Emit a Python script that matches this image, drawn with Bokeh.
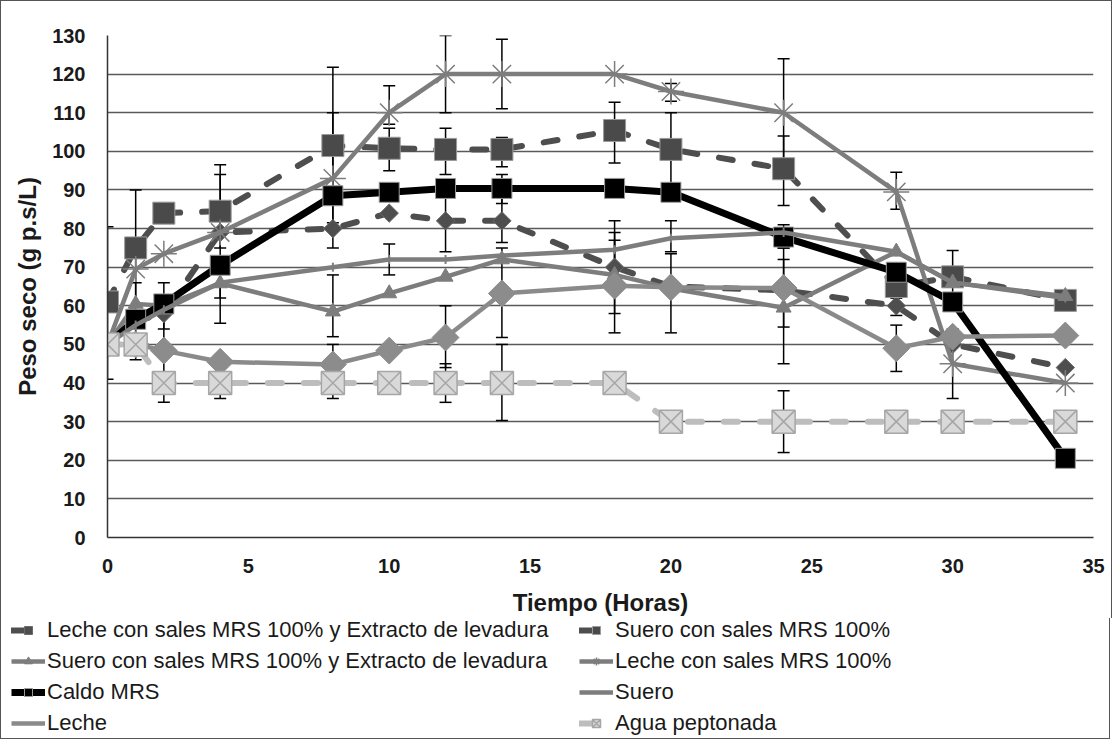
from bokeh.plotting import figure
from bokeh.models import Range1d, FixedTicker, Legend, LegendItem
from bokeh.embed import file_html
from bokeh.resources import INLINE
import math

hours = [0, 1, 2, 4, 8, 10, 12, 14, 18, 20, 24, 28, 30, 34]
leche_mrs_ext = [50, 56, 58, 79, 80, 84, 82, 82, 70, 65, 64, 60, 50, 44]
suero_mrs = [61, 75, 84, 84.5, 101.5, 100.8, 100.5, 100.5, 105.4, 100.5, 95.5, 65, 67.5, 61.4]
suero_mrs_ext = [50, 60.5, 60, 65.8, 58.5, 63.2, 67.5, 72, 68, 64.5, 59.5, 74, 66, 62.5]
leche_mrs = [50, 69.5, 73.5, 79, 93, 110, 120, 120, 120, 115.5, 110, 89.5, 45, 40]
caldo_mrs = [50, 56.5, 60.5, 70.5, 88.5, 89.4, 90.4, 90.4, 90.4, 89.4, 77.8, 68.7, 61, 20.5]
suero = [50, 55, 59, 66, 70, 72, 72, 73, 74.5, 77.5, 79, 74, 66, 62]
leche = [50, 50, 48.4, 45.5, 44.8, 48.4, 51.8, 63.2, 65.2, 64.8, 64.6, 49, 52, 52.3]
agua = [50, 50, 40, 40, 40, 40, 40, 40, 40, 30, 30, 30, 30, 30]

# error bars (hour, low, high)
err_x = [0, 1, 1, 2, 2, 4, 4, 4, 4, 8, 8, 8, 8, 10, 10, 10, 12, 12, 12, 12, 12,
         14, 14, 14, 14, 14, 14, 18, 18, 18, 18, 20, 20, 20, 20,
         24, 24, 24, 24, 24, 24, 28, 28, 28, 30, 30]
err_lo = [41, 60, 46, 35, 54, 75, 62, 55.5, 36, 81.5, 75, 52, 36, 68, 95, 107, 110, 94, 74, 44, 35,
          111, 96, 86.5, 76.4, 51.8, 30.3, 97, 68, 58, 53, 113, 91, 74, 53,
          96, 86, 75, 54.5, 45, 22, 85, 43, 57.5, 60, 36]
err_hi = [80.5, 90, 66, 61, 66, 96.5, 94, 72, 44, 121.8, 110, 68, 50, 76, 106, 117, 130, 106, 89, 60, 45,
          129, 103.6, 94, 88, 75, 50, 112.7, 82, 79, 77, 117.6, 110, 82, 73.5,
          124, 104, 81, 75, 72, 38, 94.6, 55, 62, 74.3, 54]

x_ticks = [0, 5, 10, 15, 20, 25, 30, 35]
y_ticks = [0, 10, 20, 30, 40, 50, 60, 70, 80, 90, 100, 110, 120, 130]

labels = [
    "Leche con sales MRS 100% y Extracto de levadura",
    "Suero con sales MRS 100%",
    "Suero con sales MRS 100% y Extracto de levadura",
    "Leche con sales MRS 100%",
    "Caldo MRS",
    "Suero",
    "Leche",
    "Agua peptonada",
]
series = [leche_mrs_ext, suero_mrs, suero_mrs_ext, leche_mrs, caldo_mrs, suero, leche, agua]

FONT = "Liberation Sans"
DARK = "#4e4e4e"
MID = "#7d7d7d"
LIGHT = "#bdbdbd"
EDGE = "1.5px solid #555555"

line_styles = [
    dict(line_color=DARK, line_width=6, line_dash="14 22", line_cap="round"),
    dict(line_color=DARK, line_width=6, line_dash="14 22", line_cap="round"),
    dict(line_color=MID, line_width=4.5),
    dict(line_color=MID, line_width=4.5),
    dict(line_color="black", line_width=7),
    dict(line_color=MID, line_width=4.5),
    dict(line_color="#8a8a8a", line_width=4.5),
    dict(line_color=LIGHT, line_width=6, line_dash="14 22", line_cap="round"),
]
marker_styles = [
    dict(marker="square", angle=math.pi / 4, size=13, fill_color=DARK, line_color="#6a6a6a", line_width=1),
    dict(marker="square", size=22, fill_color="#4a4a4a", line_color="#9a9a9a", line_width=1),
    dict(marker="triangle", size=15, fill_color=MID, line_color=MID),
    dict(marker="asterisk", size=26, line_color=MID, line_width=1.5),
    dict(marker="square", size=20, fill_color="black", line_color="#9a9a9a", line_width=1),
    dict(marker="dash", angle=math.pi / 2, size=9, line_color=MID, line_width=2),
    dict(marker="square", angle=math.pi / 4, size=19, fill_color="#8c8c8c", line_color="#8c8c8c"),
    dict(marker="square_x", size=23, fill_color="#d9d9d9", line_color="#a6a6a6", line_width=1.5),
]

p = figure(frame_width=986, frame_height=502, min_border_left=106, min_border_right=18,
           min_border_top=34, min_border_bottom=80,
           x_range=Range1d(0, 35), y_range=Range1d(0, 130),
           output_backend="svg", toolbar_location=None)
p.styles = {"border-left": EDGE, "border-right": EDGE, "border-top": EDGE}
p.outline_line_color = None
p.background_fill_color = "white"
p.border_fill_color = "white"

p.xgrid.grid_line_color = None
p.ygrid.grid_line_color = "#5a5a5a"
p.ygrid.grid_line_width = 1.5
p.xaxis.ticker = FixedTicker(ticks=x_ticks)
p.yaxis.ticker = FixedTicker(ticks=y_ticks)
for ax in (p.xaxis, p.yaxis):
    ax.axis_line_color = "#333333"
    ax.axis_line_width = 1.5
    ax.major_tick_line_color = None
    ax.minor_tick_line_color = None
    ax.major_tick_out = 0
    ax.major_tick_in = 0
    ax.major_label_text_font = FONT
    ax.major_label_text_font_style = "bold"
    ax.major_label_text_font_size = "20px"
    ax.major_label_text_color = "#1a1a1a"
    ax.axis_label_text_font = FONT
    ax.axis_label_text_font_style = "bold"
    ax.axis_label_text_font_size = "24px"
    ax.axis_label_text_color = "#1a1a1a"
p.xaxis.major_label_standoff = 21
p.yaxis.major_label_standoff = 22
p.xaxis.axis_label = "Tiempo (Horas)"
p.yaxis.axis_label = "Peso seco (g p.s/L)"
p.xaxis.axis_label_standoff = 13
p.yaxis.axis_label_standoff = 8

# error bars
p.segment(x0=err_x, y0=err_lo, x1=err_x, y1=err_hi, line_color="black", line_width=1.5)
p.scatter(x=err_x + err_x, y=err_lo + err_hi, marker="dash", size=12,
          line_color="black", line_width=1.5)

for vals, ls, ms in zip(series, line_styles, marker_styles):
    p.line(hours, vals, **ls)
    p.scatter(hours, vals, **ms)

# legend strip below the chart; its renderers use the same data, kept out of view
p2 = figure(width=1110, height=121, x_range=Range1d(100, 101), y_range=Range1d(1000, 1001),
            min_border_left=0, min_border_right=0, min_border_top=0, min_border_bottom=0,
            output_backend="svg", toolbar_location=None)
p2.styles = {"border-left": EDGE, "border-right": EDGE, "border-bottom": EDGE}
p2.axis.visible = False
p2.grid.grid_line_color = None
p2.outline_line_color = None
p2.border_fill_color = "white"

items = []
for lab, vals, ls, ms in zip(labels, series, line_styles, marker_styles):
    rl = p2.line(hours, vals, **ls)
    rs = p2.scatter(hours, vals, **ms)
    rends = [rl] if lab == "Leche" else [rl, rs]
    items.append(LegendItem(label=lab, renderers=rends))

legend = Legend(items=items, ncols=2, orientation="horizontal", location=(10, 3))
legend.label_text_font = FONT
legend.label_text_font_size = "22px"
legend.label_text_color = "#1a1a1a"
legend.glyph_width = 34
legend.glyph_height = 20
legend.label_height = 20
legend.label_standoff = 2
legend.label_width = 527
legend.spacing = 5
legend.padding = 0
legend.margin = 0
legend.border_line_color = None
legend.background_fill_alpha = 0
p2.add_layout(legend, "center")

open("out.html", "w").write(file_html([p, p2], INLINE))
